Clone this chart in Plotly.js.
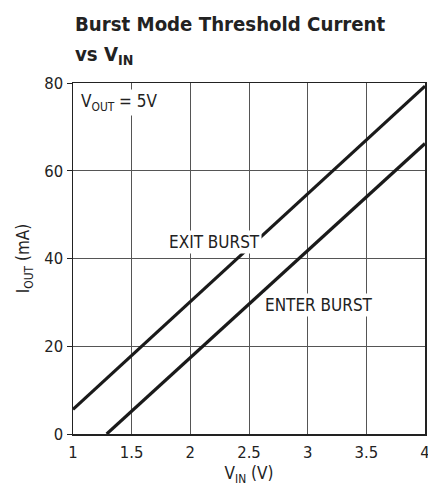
<!DOCTYPE html>
<html><head><meta charset="utf-8">
<script src="https://cdn.plot.ly/plotly-3.0.1.min.js"></script>
<style>body{margin:0;padding:0;background:#fff}#c{width:428px;height:492px}</style>
</head><body><div id="c"></div>
<script>
const vin = [1, 4];
const exitBurst = [5.6, 79.3];
const enterVin = [1.287, 4];
const enterBurst = [0, 66.2];
const xTicks = [1, 1.5, 2, 2.5, 3, 3.5, 4];
const xTickText = ['1', '1.5', '2', '2.5', '3', '3.5', '4'];
const yTicks = [0, 20, 40, 60, 80];

const F = '"DejaVu Sans Condensed", "Liberation Sans", Arial, sans-serif';
const lineStyle = {color: '#1a1a1a', width: 3.2};

const data = [
  {x: vin, y: exitBurst, mode: 'lines', line: lineStyle, hoverinfo: 'none'},
  {x: enterVin, y: enterBurst, mode: 'lines', line: lineStyle, hoverinfo: 'none'}
];

const ax = {
  showline: true, linecolor: '#222', linewidth: 1.5, mirror: true,
  showgrid: true, gridcolor: '#555', gridwidth: 1, zeroline: false,
  tickfont: {family: F, size: 16.5, color: '#222'}
};

const layout = {
  width: 428, height: 492,
  margin: {l: 73, r: 3, t: 83, b: 58},
  paper_bgcolor: '#fff', plot_bgcolor: '#fff',
  showlegend: false,
  xaxis: Object.assign({}, ax, {
    range: [1, 4], tickvals: xTicks, ticktext: xTickText, ticks: '', ticklabelstandoff: 3,
    ticklabeloverflow: 'allow',
    title: {text: 'V<sub>IN</sub> (V)', font: {family: F, size: 17, color: '#222'}, standoff: 6}
  }),
  yaxis: Object.assign({}, ax, {
    range: [0, 80], tickvals: yTicks, ticks: 'outside', ticklen: 5, tickcolor: '#222',
    title: {text: 'I<sub>OUT</sub> (mA)', font: {family: F, size: 17, color: '#222'}, standoff: 10}
  }),
  annotations: [
    {text: '<b>Burst Mode Threshold Current</b>', xref: 'paper', yref: 'paper', x: 0, y: 1 + (83-24)/351,
     xanchor: 'left', yanchor: 'middle', xshift: 0, showarrow: false, font: {family: F, size: 20.2, color: '#222'}},
    {text: '<b>vs V<sub>IN</sub></b>', xref: 'paper', yref: 'paper', x: 0, y: 1 + (83-55)/351,
     xanchor: 'left', yanchor: 'middle', showarrow: false, font: {family: F, size: 20.2, color: '#222'}},
    {text: 'V<sub>OUT</sub> = 5V', xref: 'x', yref: 'y', x: 1.05, y: 75.5, xanchor: 'left', yanchor: 'middle',
     showarrow: false, bgcolor: '#fff', font: {family: F, size: 17, color: '#222'}},
    {text: 'EXIT BURST', xref: 'x', yref: 'y', x: 2.21, y: 43.8, xanchor: 'center', yanchor: 'middle',
     showarrow: false, bgcolor: '#fff', font: {family: F, size: 17, color: '#222'}},
    {text: 'ENTER BURST', xref: 'x', yref: 'y', x: 3.1, y: 29.5, xanchor: 'center', yanchor: 'middle',
     showarrow: false, bgcolor: '#fff', font: {family: F, size: 17, color: '#222'}}
  ]
};

Plotly.newPlot('c', data, layout, {staticPlot: true, displayModeBar: false});
</script></body></html>
